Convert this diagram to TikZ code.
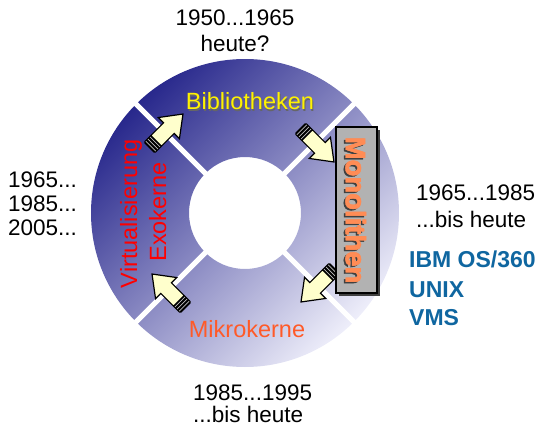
\documentclass[tikz,border=0pt]{standalone}
\usepackage{fontspec}
\setmainfont{Liberation Sans}
\newfontfamily\heavysans{Liberation Sans Bold}[FakeBold=1.2]
\definecolor{ringdark}{RGB}{40,40,140}
\definecolor{ringmid}{RGB}{135,135,195}
\definecolor{ringlight}{RGB}{238,238,250}
\definecolor{arrowfill}{RGB}{255,255,204}
\definecolor{labred}{RGB}{255,0,0}
\definecolor{laborange}{RGB}{255,90,40}
\definecolor{monoorange}{RGB}{255,140,85}
\definecolor{osblue}{RGB}{15,102,160}
\definecolor{boxgray}{RGB}{178,178,178}
\tikzset{
  yeartext/.style={font=\fontsize{22.5}{27}\selectfont, inner sep=0pt, anchor=base west},
  ostext/.style={font=\bfseries\fontsize{23}{27}\selectfont, text=osblue, inner sep=0pt, anchor=base west},
  ringlabel/.style={font=\fontsize{23.5}{28}\selectfont, inner sep=0pt, anchor=base},
  monolabel/.style={font=\heavysans\fontsize{27.5}{30}\selectfont, anchor=base, rotate=-90, inner sep=0pt},
  gapline/.style={white, line width=5pt},
  cyclearrow/.pic={
    \fill[black, rounded corners=1.5pt] (-24,-8) rectangle (-13,8);
    \foreach \u in {-21.5,-18.5,-15.5}{\draw[gray!50, line width=0.8pt] (\u,-7) -- (\u,7);}
    \filldraw[fill=arrowfill, draw=black, line width=1.2pt, line join=miter]
      (-14,-7.5) -- (4,-7.5) -- (4,-15) -- (24,0) -- (4,15) -- (4,7.5) -- (-14,7.5) -- cycle;
  }
}
\begin{document}
\begin{tikzpicture}[x=1pt,y=-1pt]
\useasboundingbox (0,0) rectangle (542,431);
\coordinate (c) at (245,213);
% ring
\shade[even odd rule, top color=ringdark, middle color=ringmid, bottom color=ringlight, shading angle=45]
  (c) circle[radius=154pt] (c) circle[radius=56pt];
% gaps
\draw[gapline] (133,101) -- (357,325);
\draw[gapline] (357,101) -- (133,325);
% arrows
\pic[rotate=45] (aTL) at (166,131) {cyclearrow};
\pic[rotate=-45] (aTR) at (317,145) {cyclearrow};
\pic[rotate=-135] (aBR) at (318,285) {cyclearrow};
\pic[rotate=135] (aBL) at (169,291) {cyclearrow};
% ring labels
\node[ringlabel, text=black!60] (bibs) at (251,111) {Bibliotheken};
\node[ringlabel, text=yellow] (bib) at (250,110) {Bibliotheken};
\node[ringlabel, text=laborange] (mik) at (247,337) {Mikrokerne};
\node[ringlabel, text=labred, rotate=90] (vir) at (137,214) {Virtualisierung};
\node[ringlabel, text=labred, rotate=90] (exo) at (166,212) {Exokerne};
% Monolithen box
\fill[black!75] (338.5,129.5) rectangle (379.5,295.5);
\node[draw=black, line width=1.2pt, fill=boxgray, minimum width=41pt, minimum height=166pt, inner sep=0pt] (monobox) at (356.5,210) {};
\node[monolabel, text=black!75] (monos) at (344,211.5) {Monolithen};
\node[monolabel, text=monoorange] (monob) at (346.3,210) {Monolithen};
\node[monolabel, text=monoorange] (mono) at (345.5,210) {Monolithen};
% year texts
\node[yeartext, anchor=base] (t1) at (235,25) {1950...1965};
\node[yeartext, anchor=base] (t2) at (235,51) {heute?};
\node[yeartext] (l1) at (8,187) {1965...};
\node[yeartext] (l2) at (8,211) {1985...};
\node[yeartext] (l3) at (8,235) {2005...};
\node[yeartext] (r1) at (416,200) {1965...1985};
\node[yeartext] (r2) at (416,227) {...bis heute};
\node[yeartext] (b1) at (193,400) {1985...1995};
\node[yeartext] (b2) at (193,422) {...bis heute};
\node[ostext] (o1) at (409,267) {IBM OS/360};
\node[ostext] (o2) at (409,297) {UNIX};
\node[ostext] (o3) at (409,325) {VMS};
\end{tikzpicture}
\end{document}
